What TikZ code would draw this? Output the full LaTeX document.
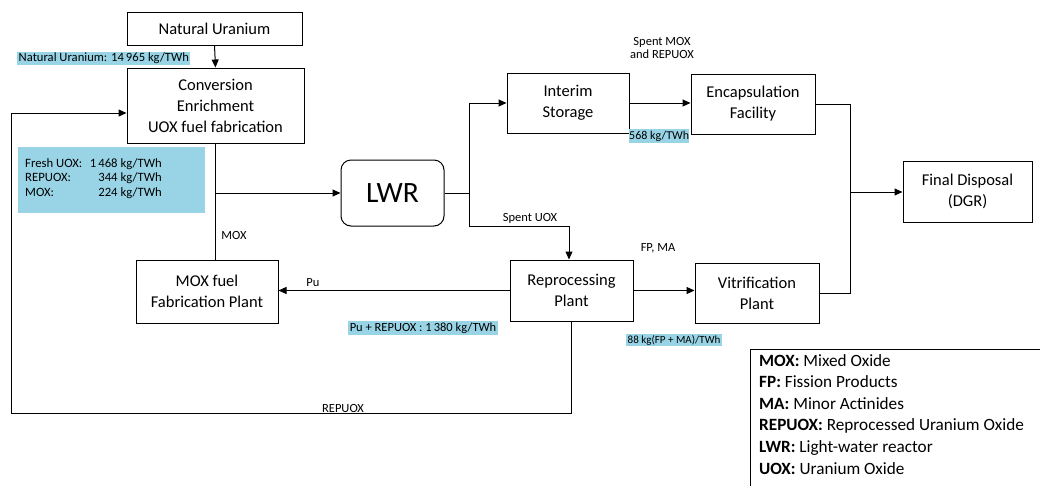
\documentclass[tikz,border=0pt]{standalone}
\usepackage{fontspec}
\setmainfont{Carlito}
\usetikzlibrary{arrows.meta}
\definecolor{hlblue}{RGB}{152,212,230}
\tikzset{
  box/.style={draw, line width=1pt, align=center, inner sep=0pt,
              font=\fontsize{16.5}{21}\selectfont},
  lbl/.style={inner sep=0pt, font=\fontsize{12.5}{14}\selectfont},
  blu/.style={inner sep=0pt, font=\fontsize{12.7}{14}\selectfont},
  hl/.style={fill=hlblue, inner sep=1.5pt, font=\fontsize{12.5}{14}\selectfont},
  conn/.style={line width=1pt},
  arr/.style={line width=1pt, -{Triangle[length=8pt,width=7pt]}},
}
\begin{document}
\begin{tikzpicture}[x=1pt,y=-1pt]
\useasboundingbox (0,0) rectangle (1040,485);
\fill[white] (0,0) rectangle (1040,485);

% boxes
\node[box, minimum width=175, minimum height=33] (natu) at (214.5,28.5) {Natural Uranium};
\node[box, minimum width=177, minimum height=75] (conv) at (215.5,105.5) {Conversion\\Enrichment\\UOX fuel fabrication};
\node[box, rounded corners=10pt, minimum width=103, minimum height=66,
      font=\fontsize{29.5}{30}\selectfont] (lwr) at (392.5,193) {LWR};
\node[box, minimum width=122, minimum height=60] (inter) at (568,103) {Interim\\Storage};
\node[box, minimum width=124, minimum height=60] (encap) at (753,104) {Encapsulation\\Facility};
\node[box, minimum width=129, minimum height=61] (final) at (967.5,191.5) {Final Disposal\\(DGR)};
\node[box, minimum width=142, minimum height=63] (moxf) at (207,291.5) {MOX fuel\\Fabrication Plant};
\node[box, minimum width=123, minimum height=61] (repro) at (571.5,290.5) {Reprocessing\\Plant};
\node[box, minimum width=124, minimum height=60] (vitr) at (757,293) {Vitrification\\Plant};

% junction coordinates
\coordinate (j1) at (215,193);
\coordinate (j2) at (469,193);
\coordinate (j3) at (569,226);
\coordinate (j4) at (850,192);
\coordinate (c1) at (571,413);
\coordinate (c2) at (11,413);
\coordinate (c3) at (11,113);

% connectors
\draw[arr] (natu.south) -- (conv.north);
\draw[conn] (conv.south -| j1) -- (moxf.north -| j1);
\draw[arr] (j1) -- (lwr.west);
\draw[conn] (lwr.east) -- (j2);
\draw[arr] (j2) |- (inter.west);
\draw[arr] (j2) |- (j3) -- (j3 |- repro.north);
\draw[arr] (inter.east) -- (encap.west |- inter.east);
\draw[conn] (encap.east) -| (j4) |- (vitr.east);
\draw[arr] (j4) -- (final.west |- j4);
\draw[arr] (repro.east) -- (vitr.west |- repro.east);
\draw[arr] (repro.west) -- (moxf.east |- repro.west);
\draw[arr] (c1 |- repro.south) -- (c1) -- (c2) -- (c3) -- (conv.west |- c3);

% highlighted data labels
\node[hl, anchor=west, font=\fontsize{12.6}{14}\selectfont] (lnat) at (17,58.5) {Natural Uranium: 14\,965 kg/TWh};
\fill[hlblue] (18,147) rectangle (205,213);
\node[blu, anchor=base west] (f1a) at (25,167) {Fresh UOX:};
\node[blu, anchor=base east] (f1b) at (162,167) {1\,468 kg/TWh};
\node[blu, anchor=base west] (f2a) at (25,181.5) {REPUOX:};
\node[blu, anchor=base east] (f2b) at (162,181.5) {344 kg/TWh};
\node[blu, anchor=base west] (f3a) at (25,196) {MOX:};
\node[blu, anchor=base east] (f3b) at (162,196) {224 kg/TWh};
\node[hl] (lpu2) at (423,328) {Pu + REPUOX : 1\,380 kg/TWh};
\node[hl, anchor=west, inner xsep=0pt, font=\fontsize{12}{14}\selectfont] (l568) at (629,136) {568 kg/TWh};
\node[hl, font=\fontsize{11}{13}\selectfont] (l88) at (674,340) {88 kg(FP + MA)/TWh};

% plain labels
\node[lbl] (lmox) at (234,235) {MOX};
\node[lbl] (lpu) at (313,283) {Pu};
\node[lbl] (lrep) at (343,408) {REPUOX};
\node[lbl] (lsu) at (530,218) {Spent UOX};
\node[lbl] (lfp) at (658,248) {FP, MA};
\node[lbl, align=center, font=\fontsize{12.5}{13}\selectfont] (lsm) at (662,47.5) {Spent MOX\\and REPUOX};

% legend
\draw[line width=1pt] (750,349) rectangle (1050,495);
\node[anchor=north west, align=left, inner sep=0pt,
      font=\fontsize{17.2}{21.6}\selectfont] (leg) at (759,354)
  {\textbf{MOX:} Mixed Oxide\\
   \textbf{FP:} Fission Products\\
   \textbf{MA:} Minor Actinides\\
   \textbf{REPUOX:} Reprocessed Uranium Oxide\\
   \textbf{LWR:} Light-water reactor\\
   \textbf{UOX:} Uranium Oxide};
\end{tikzpicture}
\end{document}
